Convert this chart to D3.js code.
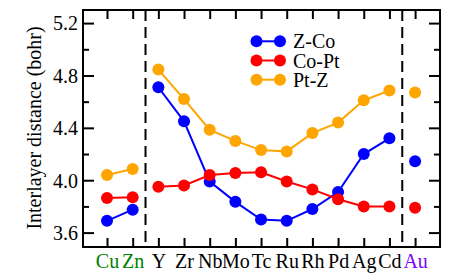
<!DOCTYPE html>
<html><head><meta charset="utf-8">
<script src="https://cdn.jsdelivr.net/npm/d3@7"></script>
<style>body{margin:0;background:#fff}svg{display:block}svg text{font-family:"Liberation Serif","Times New Roman",Times,"DejaVu Serif",serif !important}</style>
</head><body><svg id="c" width="463" height="280"></svg>
<script>
const categories = ["Cu","Zn","Y","Zr","Nb","Mo","Tc","Ru","Rh","Pd","Ag","Cd","Au"];
const labelColors = ["#008000","#008000","#000","#000","#000","#000","#000","#000","#000","#000","#000","#000","#8000ff"];
const zCo  = [3.69, 3.775, 4.71, 4.45, 3.99, 3.835, 3.70, 3.69, 3.78, 3.91, 4.20, 4.32, 4.145];
const coPt = [3.865, 3.87, 3.95, 3.96, 4.04, 4.055, 4.06, 3.99, 3.93, 3.855, 3.80, 3.80, 3.79];
const ptZ  = [4.04, 4.085, 4.845, 4.62, 4.385, 4.30, 4.23, 4.22, 4.36, 4.44, 4.61, 4.685, 4.67];
const segments = [[0,1],[2,11],[12,12]];
const seriesNames = ["Z-Co","Co-Pt","Pt-Z"];
const seriesColors = ["#0000ff","#ff0000","#ffa500"];
const yMajor = [3.6, 4.0, 4.4, 4.8, 5.2];
const yMinor = [3.8, 4.2, 4.6, 5.0];
const separators = [1.5, 11.5];

const FONT = '"Liberation Serif","Times New Roman",Times,"DejaVu Serif",serif';
const svg = d3.select("#c");
const L=83, R=440, T=10, B=247;
const x = d3.scaleLinear().domain([-0.935, 12.97]).range([L, R]);
const y = d3.scaleLinear().domain([3.49, 5.30]).range([B, T]);

separators.forEach(s => {
  svg.append("line").attr("x1", x(s)).attr("x2", x(s)).attr("y1", T).attr("y2", B)
    .attr("stroke", "#000").attr("stroke-width", 2).attr("stroke-dasharray", "11,6");
});

const idx = d3.range(categories.length);
const axL = svg.append("g").attr("transform", `translate(${L},0)`)
  .call(d3.axisLeft(y).tickValues(yMajor).tickSize(-11).tickPadding(5).tickFormat(d3.format(".1f")));
const axLm = svg.append("g").attr("transform", `translate(${L},0)`)
  .call(d3.axisLeft(y).tickValues(yMinor).tickSize(-6).tickFormat(""));
const axR = svg.append("g").attr("transform", `translate(${R},0)`)
  .call(d3.axisRight(y).tickValues(yMajor).tickSize(-11).tickFormat(""));
const axRm = svg.append("g").attr("transform", `translate(${R},0)`)
  .call(d3.axisRight(y).tickValues(yMinor).tickSize(-6).tickFormat(""));
const axB = svg.append("g").attr("transform", `translate(0,${B})`)
  .call(d3.axisBottom(x).tickValues(idx).tickSize(-9).tickPadding(7).tickFormat(i => categories[i]));
const axT = svg.append("g").attr("transform", `translate(0,${T})`)
  .call(d3.axisTop(x).tickValues(idx).tickSize(-9).tickFormat(""));
[axL, axLm, axR, axRm, axB, axT].forEach(g => {
  g.attr("font-family", FONT).attr("font-size", 20);
  g.select(".domain").remove();
  g.selectAll(".tick line").attr("stroke", "#000").attr("stroke-width", 2);
  g.selectAll("text").attr("fill", "#000");
});
axB.selectAll(".tick text").attr("fill", i => labelColors[i]).attr("dy", "0.71em");
axL.selectAll(".tick text").attr("dy", "0.34em");

svg.append("rect").attr("x", L).attr("y", T).attr("width", R-L).attr("height", B-T)
  .attr("fill", "none").attr("stroke", "#000").attr("stroke-width", 2);

const all = [zCo, coPt, ptZ];
all.forEach((vals, si) => {
  const g = svg.append("g");
  segments.forEach(([a, b]) => {
    const pts = d3.range(a, b+1);
    g.append("path").datum(pts)
      .attr("d", d3.line().x(i => x(i)).y(i => y(vals[i])))
      .attr("fill", "none").attr("stroke", seriesColors[si]).attr("stroke-width", 2);
  });
  g.selectAll("circle").data(idx).join("circle")
    .attr("cx", i => x(i)).attr("cy", i => y(vals[i])).attr("r", 6)
    .attr("fill", seriesColors[si]);
});

const lg = svg.append("g").attr("font-family", FONT);
seriesNames.forEach((n, i) => {
  const yy = 41.3 + i*19.2;
  lg.append("line").attr("x1", 256.5).attr("x2", 280).attr("y1", yy).attr("y2", yy)
    .attr("stroke", seriesColors[i]).attr("stroke-width", 2);
  [256.5, 280].forEach(cx => lg.append("circle").attr("cx", cx).attr("cy", yy).attr("r", 6).attr("fill", seriesColors[i]));
  lg.append("text").attr("x", 293).attr("y", yy).attr("dy", "0.35em").attr("font-size", 20).text(n);
});

svg.append("text").attr("font-family", FONT).attr("transform", `translate(41,128) rotate(-90)`)
  .attr("text-anchor", "middle").attr("font-size", 20).text("Interlayer distance (bohr)");
</script></body></html>
